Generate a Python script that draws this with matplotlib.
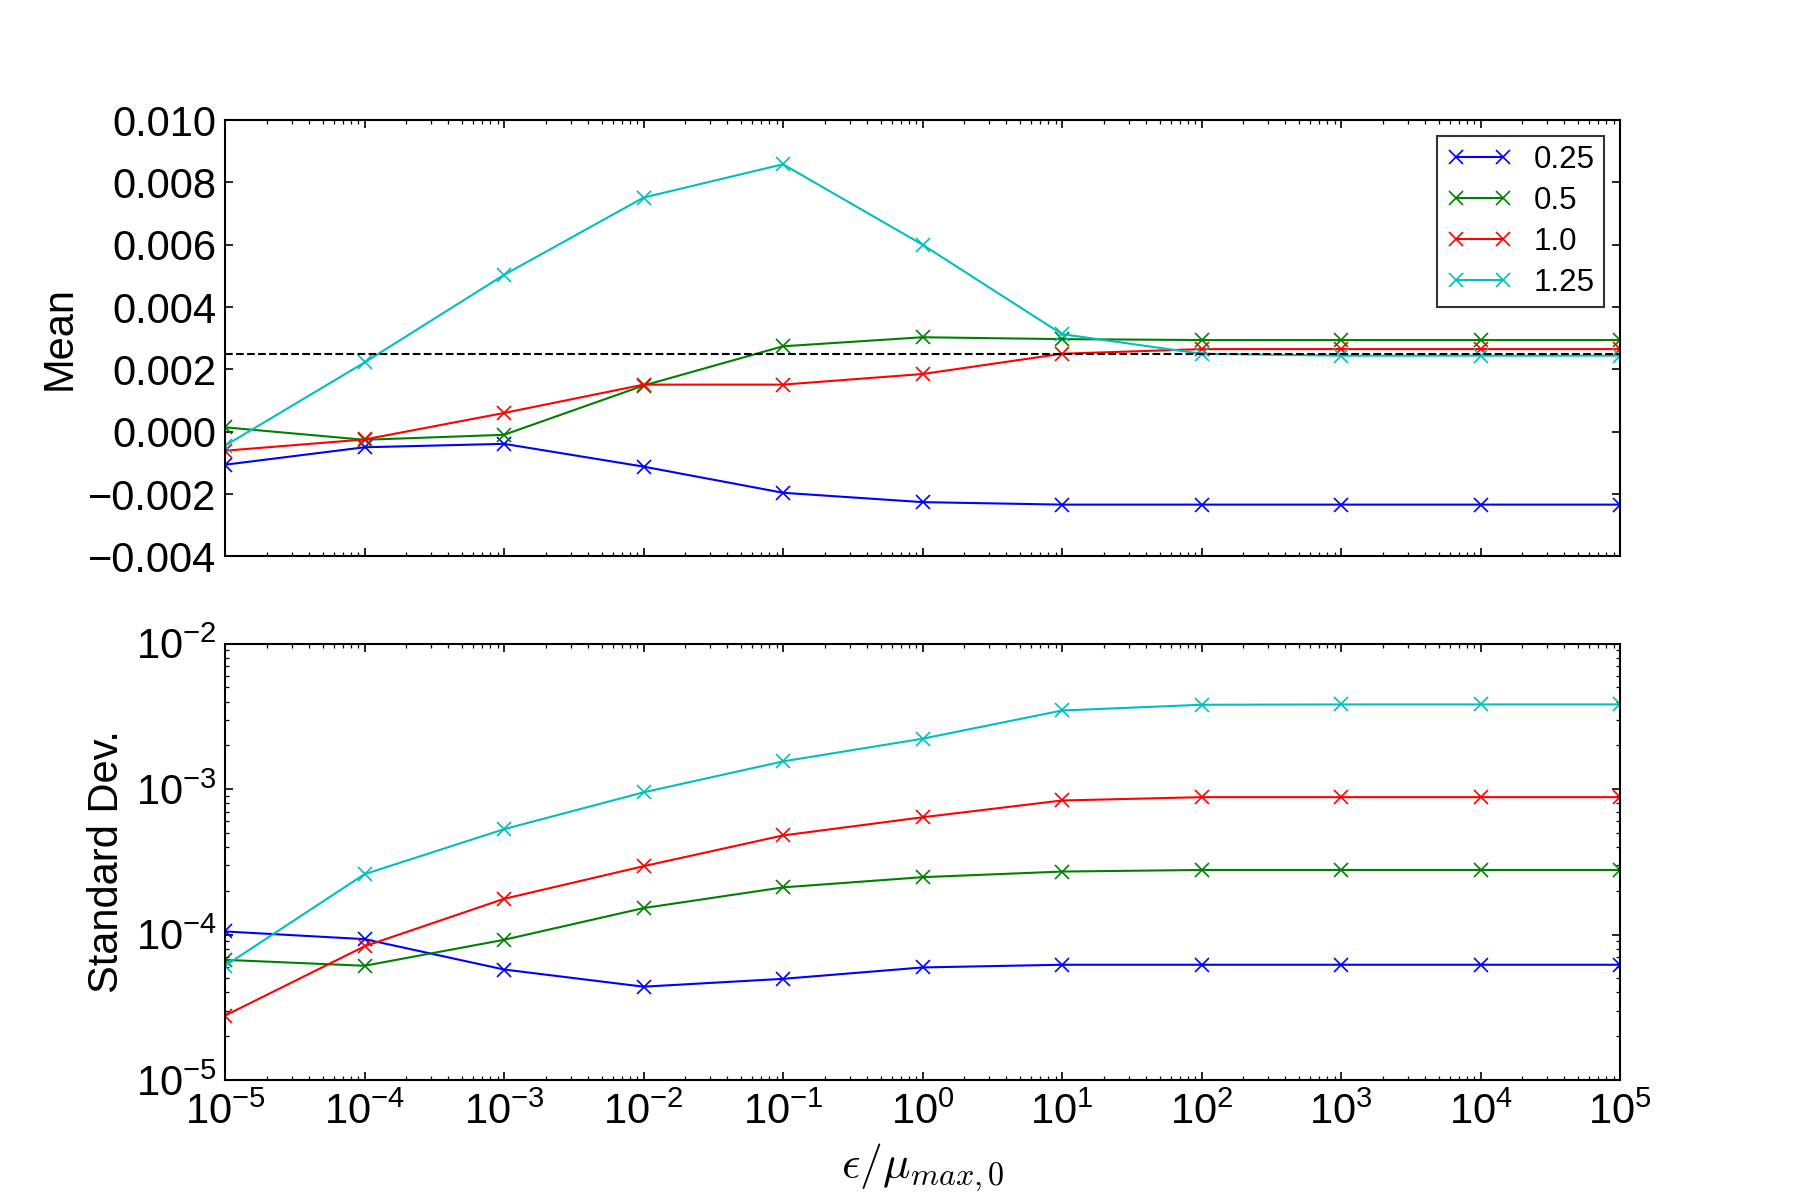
import numpy as np
import matplotlib
matplotlib.use("Agg")
import matplotlib.pyplot as plt
from matplotlib.ticker import LogLocator

# x values: eps / mu_max,0
eps = [1e-5, 1e-4, 1e-3, 1e-2, 1e-1, 1e0, 1e1, 1e2, 1e3, 1e4, 1e5]
labels = ["0.25", "0.5", "1.0", "1.25"]
colors = [(0, 0, 1), (0, 0.5, 0), (1, 0, 0), (0, 0.75, 0.75)]

mean_025 = [-0.00106, -0.00050, -0.00039, -0.00112, -0.00196, -0.00226, -0.00234, -0.00234, -0.00234, -0.00234, -0.00234]
mean_05 = [0.00014, -0.00026, -0.00010, 0.00148, 0.00274, 0.00303, 0.00297, 0.00294, 0.00294, 0.00294, 0.00294]
mean_10 = [-0.00061, -0.00025, 0.00060, 0.00151, 0.00151, 0.00185, 0.00250, 0.00265, 0.00265, 0.00265, 0.00265]
mean_125 = [-0.00045, 0.00222, 0.00503, 0.00751, 0.00858, 0.00600, 0.00313, 0.00250, 0.00244, 0.00244, 0.00244]

std_025 = [1.05e-4, 9.3e-5, 5.75e-5, 4.38e-5, 4.96e-5, 5.94e-5, 6.2e-5, 6.2e-5, 6.2e-5, 6.2e-5, 6.2e-5]
std_05 = [6.7e-5, 6.1e-5, 9.2e-5, 1.52e-4, 2.11e-4, 2.48e-4, 2.71e-4, 2.78e-4, 2.78e-4, 2.78e-4, 2.78e-4]
std_10 = [2.77e-5, 8.3e-5, 1.76e-4, 2.95e-4, 4.8e-4, 6.4e-4, 8.35e-4, 8.8e-4, 8.8e-4, 8.8e-4, 8.8e-4]
std_125 = [6.1e-5, 2.6e-4, 5.3e-4, 9.5e-4, 1.55e-3, 2.22e-3, 3.47e-3, 3.8e-3, 3.82e-3, 3.82e-3, 3.82e-3]

target_mean = 0.0025

means = [mean_025, mean_05, mean_10, mean_125]
stds = [std_025, std_05, std_10, std_125]

plt.rcParams.update({
    "font.family": ["Liberation Sans", "DejaVu Sans"],
    "font.size": 20,
    "mathtext.fontset": "custom",
    "mathtext.rm": "Liberation Sans",
    "mathtext.it": "Liberation Sans:italic",
    "mathtext.bf": "Liberation Sans:bold",
    "xtick.direction": "in",
    "ytick.direction": "in",
    "xtick.top": True,
    "ytick.right": True,
    "xtick.major.size": 4,
    "ytick.major.size": 4,
    "xtick.minor.size": 2,
    "ytick.minor.size": 2,
    "xtick.major.pad": 6,
    "ytick.major.pad": 4,
    "axes.linewidth": 1.0,
    "lines.linewidth": 1.0,
})

fig, (ax1, ax2) = plt.subplots(2, 1, figsize=(12, 8), sharex=True)
fig.subplots_adjust(left=0.125, right=0.9, top=0.9, bottom=0.1, hspace=0.2)

for lab, c, m in zip(labels, colors, means):
    ax1.plot(eps, m, color=c, marker="x", markersize=7, markeredgewidth=0.8, label=lab)
ax1.axhline(target_mean, color="k", linestyle="--", linewidth=1.0)
ax1.set_xscale("log")
ax1.set_ylim(-0.004, 0.010)
ax1.set_yticks(np.arange(-0.004, 0.0101, 0.002))
ax1.set_ylabel("Mean")
leg = ax1.legend(loc="upper right", numpoints=2, fontsize=15, fancybox=False,
                 borderpad=0.3, labelspacing=0.35, handlelength=2.1,
                 handletextpad=0.7, borderaxespad=0.5)
leg.get_frame().set_edgecolor("k")
leg.get_frame().set_linewidth(1.0)

for lab, c, s in zip(labels, colors, stds):
    ax2.plot(eps, s, color=c, marker="x", markersize=7, markeredgewidth=0.8, label=lab)
ax2.set_yscale("log")
ax2.set_ylim(1e-5, 1e-2)
ax2.set_ylabel("Standard Dev.")
ax2.set_xlim(1e-5, 1e5)
ax2.xaxis.set_major_locator(LogLocator(base=10, numticks=20))
ax2.xaxis.set_minor_locator(LogLocator(base=10, subs=np.arange(2, 10), numticks=20))
ax2.set_xlabel(r"$\epsilon/\mu_{max,0}$", math_fontfamily="cm", fontsize=22)

plt.savefig("out.png", dpi=150)
plt.close()
